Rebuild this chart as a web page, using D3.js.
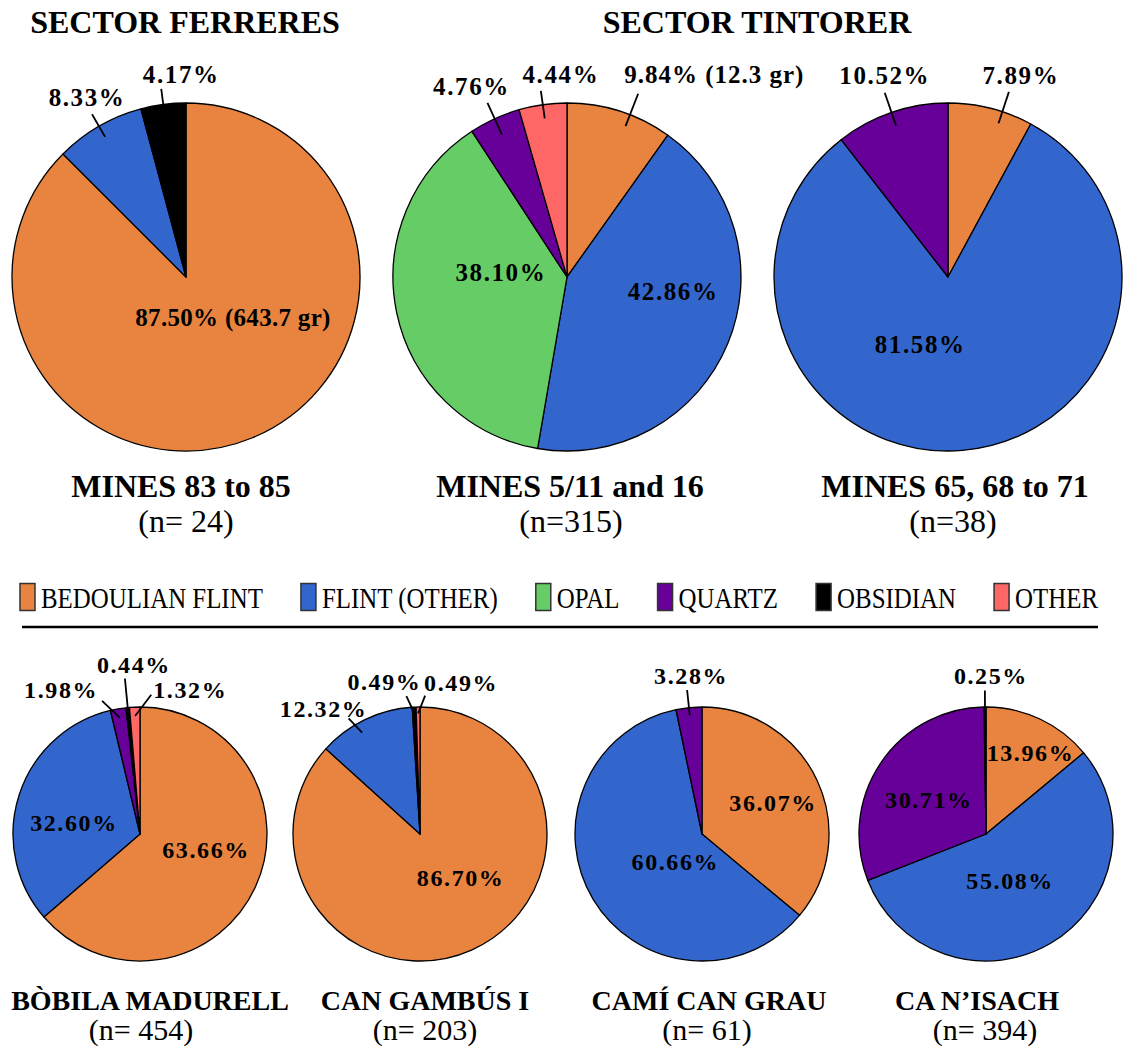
<!DOCTYPE html>
<html><head><meta charset="utf-8">
<script src="https://cdn.jsdelivr.net/npm/d3@7"></script>
<style>
body{margin:0;background:#fff}
svg{display:block}
</style>
</head><body>
<svg id="chart" width="1129" height="1049"></svg>
<script>
// ---------- DATA ----------
const materials = ["BEDOULIAN FLINT", "FLINT (OTHER)", "OPAL", "QUARTZ", "OBSIDIAN", "OTHER"];
const materialColors = ["#E8843F", "#3366CC", "#66CC66", "#660099", "#000000", "#FF6666"];

const sectorTitles = ["SECTOR FERRERES", "SECTOR TINTORER"];

const siteNames = ["MINES 83 to 85", "MINES 5/11 and 16", "MINES 65, 68 to 71",
  "BÒBILA MADURELL", "CAN GAMBÚS I", "CAMÍ CAN GRAU", "CA N’ISACH"];
const siteCounts = ["(n= 24)", "(n=315)", "(n=38)", "(n= 454)", "(n= 203)", "(n= 61)", "(n= 394)"];

// percentages per material, in the order of `materials`
const minesFerreres   = [87.50,  8.33,  0,     0,     4.17, 0];
const mines5_11_16    = [ 9.84, 42.86, 38.10,  4.76,  0,    4.44];
const mines65_68_71   = [ 7.89, 81.58,  0,    10.52,  0,    0];
const bobilaMadurell  = [63.66, 32.60,  0,     1.98,  0.44, 1.32];
const canGambus       = [86.70, 12.32,  0,     0,     0.49, 0.49];
const camiCanGrau     = [36.07, 60.66,  0,     3.28,  0,    0];
const caNIsach        = [13.96, 55.08,  0,    30.71,  0.25, 0];
const siteValues = [minesFerreres, mines5_11_16, mines65_68_71, bobilaMadurell, canGambus, camiCanGrau, caNIsach];

// weight note attached to the Bedoulian flint share
const weightNotes = ["(643.7 gr)", "(12.3 gr)", "", "", "", "", ""];

// ---------- LAYOUT (positions / styles only) ----------
const layout = [
  {cx:186, cy:277, r:174, row:0, ndx:-5, cdx:0, labels:{
    0:{k:"in", x:0.27, y:0.23, ls:0.3},
    1:{k:"out", r0:0.93, r1:1.08, dx:-5, dy:-8},
    4:{k:"out", r0:0.97, r1:1.09, dx:20, dy:-6}}},
  {cx:567, cy:277, r:174, row:0, ndx:3, cdx:4, labels:{
    0:{k:"out", r0:0.93, r1:1.13, da:3.5, dx:-14, dy:-11, a:"start", ls:1},
    1:{k:"in", x:0.61, y:0.08},
    2:{k:"in", x:-0.38, y:-0.03},
    3:{k:"out", r0:0.90, r1:1.10, dx:-16, dy:-8},
    5:{k:"out", r0:0.92, r1:1.08, dx:20, dy:-8}}},
  {cx:948, cy:277, r:174, row:0, ndx:7, cdx:5, labels:{
    0:{k:"out", r0:0.93, r1:1.12, da:4, dx:12, dy:-8},
    1:{k:"in", x:-0.16, y:0.385},
    3:{k:"out", r0:0.92, r1:1.12, dx:0, dy:-9}}},
  {cx:140, cy:834, r:127, row:1, ndx:10, cdx:1, labels:{
    0:{k:"in", x:0.52, y:0.12},
    1:{k:"in", x:-0.52, y:-0.09},
    3:{k:"out", r0:0.93, r1:1.09, de:-6, dx:-4, dy:-3, a:"end"},
    4:{k:"out", r0:1.0, r1:1.23, dx:9, dy:-6},
    5:{k:"out", r0:0.93, r1:1.10, de:7, dx:2, dy:3, a:"start"}}},
  {cx:420, cy:834, r:127, row:1, ndx:5, cdx:5, labels:{
    0:{k:"in", x:0.32, y:0.34},
    1:{k:"out", r0:0.92, r1:1.07, da:-4, de:-2, dx:-25, dy:-1},
    4:{k:"out", r0:0.95, r1:1.09, de:-3, dx:-22, dy:-6},
    5:{k:"out", r0:0.95, r1:1.09, de:3, dx:-1, dy:-5, a:"start"}}},
  {cx:702, cy:834, r:127, row:1, ndx:7, cdx:5, labels:{
    0:{k:"in", x:0.56, y:-0.25},
    1:{k:"in", x:-0.21, y:0.22},
    3:{k:"out", r0:0.94, r1:1.14, dx:4, dy:-6}}},
  {cx:986, cy:834, r:127, row:1, ndx:-9, cdx:-1, labels:{
    0:{k:"in", x:0.35, y:-0.64},
    1:{k:"in", x:0.19, y:0.37},
    3:{k:"in", x:-0.45, y:-0.27},
    4:{k:"out", r0:0.77, r1:1.13, dx:6, dy:-7}}}
];
const rows = [
  {pctSize:25, nameY:497, nameSize:32, countY:532, countSize:32},
  {pctSize:24, nameY:1010, nameSize:28, countY:1040, countSize:30}
];
const sectorLayout = [{x:185, y:33}, {x:757, y:33}];
const FONT = "'Liberation Serif', 'Times New Roman', serif";

// ---------- DRAW ----------
const svg = d3.select("#chart").style("font-family", FONT);
const color = d3.scaleOrdinal().domain(materials).range(materialColors);
const pie = d3.pie().sort(null).value(d => d.value);

sectorTitles.forEach((t, i) => {
  svg.append("text").attr("x", sectorLayout[i].x).attr("y", sectorLayout[i].y)
    .attr("text-anchor", "middle").style("font-family", FONT).style("font-weight", "bold").style("font-size", "32px")
    .text(t);
});

const polar = (angDeg, rad) => {
  const a = angDeg * Math.PI / 180;
  return [Math.sin(a) * rad, -Math.cos(a) * rad];
};

siteValues.forEach((vals, si) => {
  const L = layout[si], R = rows[L.row];
  const data = vals.map((v, i) => ({material: materials[i], value: v, idx: i}));
  const arcs = pie(data);
  const arc = d3.arc().innerRadius(0).outerRadius(L.r);
  const g = svg.append("g").attr("transform", `translate(${L.cx},${L.cy})`);

  g.selectAll("path.slice").data(arcs.filter(d => d.data.value > 0)).join("path")
    .attr("class", "slice")
    .attr("d", arc)
    .attr("fill", d => color(d.data.material))
    .attr("stroke", "#000").attr("stroke-width", 1.3).attr("stroke-linejoin", "round");

  arcs.forEach(d => {
    const cfg = L.labels[d.data.idx];
    if (!cfg || d.data.value <= 0) return;
    let txt = d.data.value.toFixed(2) + "%";
    if (d.data.idx === 0 && weightNotes[si]) txt += " " + weightNotes[si];
    const mid = (d.startAngle + d.endAngle) / 2 * 180 / Math.PI;
    const ls = cfg.ls != null ? cfg.ls : 1.6;
    let tx, ty, anchor = cfg.a || "middle", dyEm = "0";
    if (cfg.k === "in") {
      tx = cfg.x * L.r; ty = cfg.y * L.r; dyEm = "0.35em";
    } else {
      const a0 = mid + (cfg.da || 0), a1 = a0 + (cfg.de || 0);
      const p0 = polar(a0, cfg.r0 * L.r), p1 = polar(a1, cfg.r1 * L.r);
      g.append("line").attr("x1", p0[0]).attr("y1", p0[1]).attr("x2", p1[0]).attr("y2", p1[1])
        .attr("stroke", "#000").attr("stroke-width", 1.8);
      tx = p1[0] + cfg.dx; ty = p1[1] + cfg.dy;
    }
    g.append("text").attr("x", tx).attr("y", ty).attr("dy", dyEm)
      .attr("text-anchor", anchor)
      .style("font-family", FONT).style("font-weight", "bold").style("font-size", R.pctSize + "px")
      .style("letter-spacing", ls + "px")
      .text(txt);
  });

  svg.append("text").attr("x", L.cx + L.ndx).attr("y", R.nameY).attr("text-anchor", "middle")
    .style("font-family", FONT).style("font-weight", "bold").style("font-size", R.nameSize + "px").text(siteNames[si]);
  svg.append("text").attr("x", L.cx + L.cdx).attr("y", R.countY).attr("text-anchor", "middle")
    .style("font-family", FONT).style("font-size", R.countSize + "px").text(siteCounts[si]);
});

// ---------- LEGEND ----------
const legendY = 597, legendLeft = 20, legendRight = 1098, sw = 15, sh = 27, sxScale = 0.83, legendFont = 30;
const lg = svg.append("g");
const items = materials.map((m, i) => {
  const it = lg.append("g");
  it.append("rect").attr("width", sw).attr("height", sh).attr("y", -sh / 2)
    .attr("fill", materialColors[i]).attr("stroke", "#333").attr("stroke-width", 1.5);
  const t = it.append("text").style("font-family", FONT).style("font-size", legendFont + "px").attr("dy", "0.35em")
    .attr("transform", `translate(${sw + 6},0) scale(${sxScale},1)`).text(m);
  const w = sw + 6 + t.node().getComputedTextLength() * sxScale;
  return {it, w};
});
const totalW = d3.sum(items, d => d.w);
const gap = (legendRight - legendLeft - totalW) / (items.length - 1);
let xx = legendLeft;
items.forEach(d => { d.it.attr("transform", `translate(${xx},${legendY})`); xx += d.w + gap; });

svg.append("line").attr("x1", 22).attr("x2", 1098).attr("y1", 627).attr("y2", 627)
  .attr("stroke", "#000").attr("stroke-width", 2.5);
</script>
</body></html>
